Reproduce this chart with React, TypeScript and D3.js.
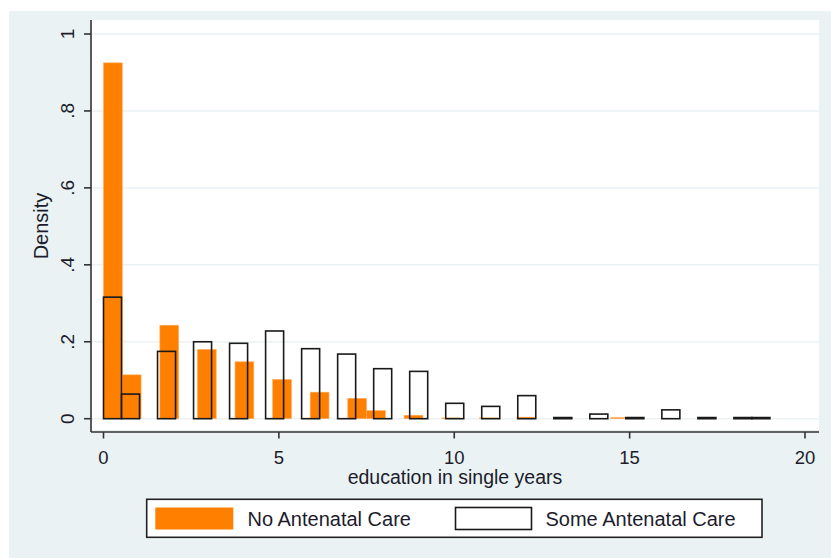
import React from "react";
import * as d3 from "d3";

const years = [0, 1, 2, 3, 4, 5, 6, 7, 8, 9, 10, 11, 12, 13, 14, 15, 16, 17, 18, 19];
const noCareYears = [0, 1, 2, 3, 4, 5, 6, 7, 8, 9, 10, 11, 12, 15];
const noCareDensity = [0.925, 0.114, 0.243, 0.18, 0.148, 0.102, 0.069, 0.053, 0.021, 0.009, 0.002, 0.002, 0.004, 0.003];
const someCareDensity = [0.316, 0.064, 0.175, 0.2, 0.196, 0.228, 0.182, 0.168, 0.13, 0.123, 0.04, 0.032, 0.06, 0.003, 0.012, 0.003, 0.023, 0.003, 0.003, 0.003];
const noCareRange = [0, 15];
const noCareBins = 28;
const someCareRange = [0, 19];
const someCareBins = 37;
const xTicks = [0, 5, 10, 15, 20];
const yTicks = [0, 0.2, 0.4, 0.6, 0.8, 1];
const yTickLabels = ["0", ".2", ".4", ".6", ".8", "1"];
const xTitle = "education in single years";
const yTitle = "Density";
const legendLabels = ["No Antenatal Care", "Some Antenatal Care"];

const W = 831;
const H = 558;
const FONT = "'Liberation Sans', Arial, sans-serif";
const BG = "#eaf2f3";
const ORANGE = "#ff8000";
const INK = "#1c1c2c";

function binOf(v: number, range: number[], n: number) {
  const w = (range[1] - range[0]) / n;
  const idx = Math.min(Math.floor((v - range[0]) / w + 1e-9), n - 1);
  return [range[0] + idx * w, range[0] + (idx + 1) * w];
}

export default function App() {
  const x = d3.scaleLinear().domain([0, 20]).range([103.5, 805]);
  const y = d3.scaleLinear().domain([0, 1]).range([418.7, 34]);
  const plot = { x0: 91, x1: 819, y0: 20, y1: 432 };

  const orangeBars = noCareYears.map((v, i) => {
    const [a, b] = binOf(v, noCareRange, noCareBins);
    return { a, b, d: noCareDensity[i] };
  });
  const someBars = years.map((v, i) => {
    const [a, b] = binOf(v, someCareRange, someCareBins);
    return { a, b, d: someCareDensity[i] };
  });

  return (
    <svg
      width={W}
      height={H}
      style={{ position: "absolute", left: 0, top: 0, display: "block" }}
      fontFamily={FONT}
    >
      <rect x={0} y={0} width={W} height={H} fill="#ffffff" />
      <rect x={9} y={11} width={W - 9} height={H - 11} fill={BG} />
      <rect x={plot.x0} y={plot.y0} width={plot.x1 - plot.x0} height={430 - plot.y0} fill="#ffffff" />
      {yTicks.map((t) => (
        <line key={"g" + t} x1={plot.x0} x2={plot.x1} y1={y(t)} y2={y(t)} stroke={BG} strokeWidth={1.5} />
      ))}
      {orangeBars.map((b, i) => (
        <rect
          key={"o" + i}
          x={x(b.a)}
          y={y(b.d)}
          width={x(b.b) - x(b.a)}
          height={y(0) - y(b.d)}
          fill={ORANGE}
          stroke="#ffb060"
          strokeWidth={0.6}
        />
      ))}
      {someBars.map((b, i) => (
        <rect
          key={"s" + i}
          x={x(b.a)}
          y={y(b.d)}
          width={x(b.b) - x(b.a)}
          height={y(0) - y(b.d)}
          fill="none"
          stroke="#1a1a1a"
          strokeWidth={1.6}
        />
      ))}
      {/* axes */}
      <line x1={plot.x0} x2={plot.x0} y1={plot.y0} y2={plot.y1} stroke="#333" strokeWidth={1.6} />
      <line x1={plot.x0} x2={plot.x1} y1={plot.y1} y2={plot.y1} stroke="#333" strokeWidth={1.6} />
      {yTicks.map((t, i) => (
        <g key={"yt" + t}>
          <line x1={84} x2={plot.x0} y1={y(t)} y2={y(t)} stroke="#333" strokeWidth={1.6} />
          <text
            transform={`translate(73.5,${y(t)}) rotate(-90)`}
            textAnchor="middle"
            fontSize={19}
            fill={INK}
          >
            {yTickLabels[i]}
          </text>
        </g>
      ))}
      {xTicks.map((t) => (
        <g key={"xt" + t}>
          <line x1={x(t)} x2={x(t)} y1={plot.y1} y2={438.5} stroke="#333" strokeWidth={1.6} />
          <text x={x(t)} y={463.5} textAnchor="middle" fontSize={18.5} fill={INK}>
            {t}
          </text>
        </g>
      ))}
      <text x={455} y={484} textAnchor="middle" fontSize={19.5} fill={INK}>
        {xTitle}
      </text>
      <text transform={`translate(48,226) rotate(-90)`} textAnchor="middle" fontSize={20} fill={INK}>
        {yTitle}
      </text>
      {/* legend */}
      <rect x={146.7} y={499.3} width={762 - 146.7} height={38} fill="#ffffff" stroke="#222" strokeWidth={1.6} />
      <rect x={155.3} y={507.5} width={78} height={22} fill={ORANGE} />
      <text x={247.5} y={519} dominantBaseline="central" fontSize={20} fill={INK}>
        {legendLabels[0]}
      </text>
      <rect x={455.5} y={507.5} width={76} height={22} fill="#ffffff" stroke="#1a1a1a" strokeWidth={1.6} />
      <text x={545.5} y={519} dominantBaseline="central" fontSize={20} fill={INK}>
        {legendLabels[1]}
      </text>
    </svg>
  );
}
